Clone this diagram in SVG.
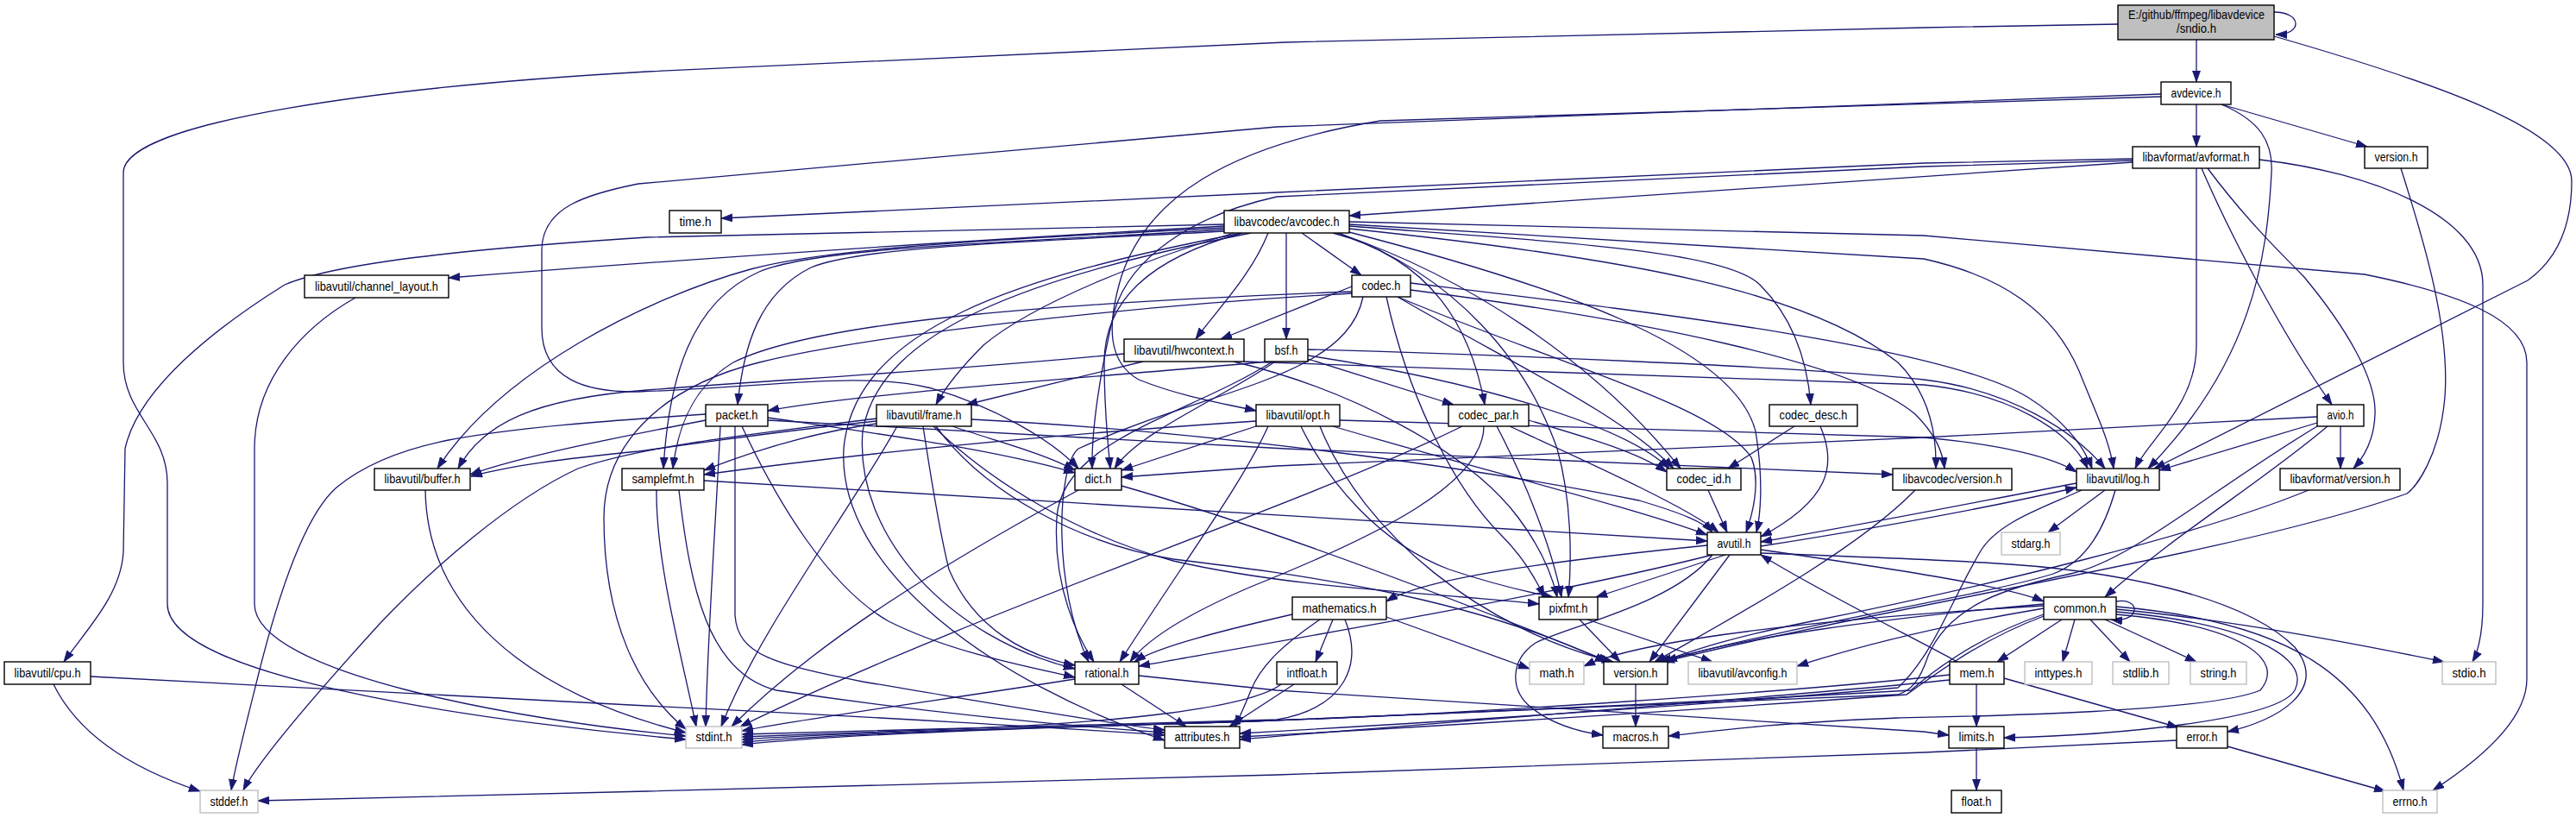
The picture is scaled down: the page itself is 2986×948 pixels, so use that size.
<svg xmlns="http://www.w3.org/2000/svg" width="2986" height="948" viewBox="0 0 2986 948">
<style>
.n rect{fill:#fff;stroke:#000;stroke-width:1.4}
.n.g rect{stroke:#bfbfbf}
.n.r rect{fill:#bfbfbf}
text{font-family:"Liberation Sans",Arial,Helvetica,sans-serif;font-size:15px;text-anchor:middle;fill:#000}
#edges path{fill:none;stroke:#191970;stroke-width:1.3;marker-end:url(#ah)}
</style>
<defs>
<marker id="ah" viewBox="0 0 13 10" refX="13" refY="5" markerWidth="13" markerHeight="10" markerUnits="userSpaceOnUse" orient="auto"><path d="M0,0.5 L13,5 L0,9.5 z" fill="#191970" stroke="#191970" stroke-width="0.8"/></marker>
</defs>
<rect width="2986" height="948" fill="#fff"/>
<g id="edges">
<path d="M2636,14 C2668,14 2670,40 2638,40"/>
<path d="M2546,46 L2546,95"/>
<path d="M2455,28 L2230,32 L1490,49 L750,83 C450,100 143,140 143,200 L143,420 C143,480 194,500 194,560 L194,700 C194,790 600,840 795,857"/>
<path d="M2636,42 C2820,95 2981,150 2981,210 C2981,260 2965,300 2930,325 L2497,543"/>
<path d="M2546,121 L2546,170"/>
<path d="M2575,121 L2744,170"/>
<path d="M2575,121 C2620,140 2635,165 2633,200 C2628,300 2610,420 2490,543"/>
<path d="M2505,112 L1600,140 C1420,170 1330,230 1300,320 C1282,380 1285,420 1320,440 C1370,460 1420,468 1456,476"/>
<path d="M2505,109 L1480,147 L740,213 C680,225 628,240 628,290 L628,380 C628,440 680,455 740,454 C900,448 1000,430 1080,450 C1150,470 1220,510 1250,543"/>
<path d="M2472,188 L1564,250"/>
<path d="M2472,184 L2230,189 L1480,223 L836,253"/>
<path d="M2472,186 L2230,193 L1480,228 C1380,250 1310,300 1292,360 C1275,430 1265,500 1266,543"/>
<path d="M2546,195 L2546,400 C2546,470 2490,510 2475,543"/>
<path d="M2552,195 C2580,260 2640,380 2703,469"/>
<path d="M2559,195 C2600,250 2640,290 2670,320 C2720,380 2755,440 2753,480 C2752,510 2740,530 2728,543"/>
<path d="M2619,185 C2750,200 2878,250 2878,330 L2878,700 C2878,740 2870,760 2866,767"/>
<path d="M2783,195 C2810,280 2840,380 2834,460 C2828,530 2800,565 2790,572 C2600,640 2200,700 1928,767"/>
<path d="M1564,257 L2230,273 L2741,318 C2850,340 2929,370 2929,420 L2929,787 C2929,840 2860,890 2820,916"/>
<path d="M1564,260 L2230,300 C2320,320 2380,360 2410,430 C2430,480 2445,510 2450,543"/>
<path d="M1509,270 L1578,319"/>
<path d="M1491,270 L1491,393"/>
<path d="M1545,270 C1660,300 1705,380 1721,469"/>
<path d="M1564,262 C1800,280 2000,290 2040,330 C2080,370 2095,420 2099,469"/>
<path d="M1564,265 C1900,300 2100,340 2200,420 C2235,455 2245,500 2244,543"/>
<path d="M1550,270 C1700,320 1850,420 1948,543"/>
<path d="M1560,268 C1800,330 2010,400 2035,500 C2045,560 2040,600 2036,617"/>
<path d="M1552,270 C1690,320 1770,420 1805,520 C1822,580 1822,650 1818,692"/>
<path d="M1450,270 C1200,320 1020,380 1000,500 C990,620 1100,740 1246,775"/>
<path d="M1440,270 C1180,320 990,380 978,520 C970,660 1150,790 1350,858"/>
<path d="M1419,266 C1200,280 950,285 880,315 C800,350 775,440 769,543"/>
<path d="M1419,264 C1100,280 950,290 870,312 C750,345 580,430 507,543"/>
<path d="M1419,268 C1200,280 1000,285 940,310 C880,340 862,400 855,469"/>
<path d="M1430,270 C1330,300 1200,350 1140,400 C1110,430 1095,450 1085,469"/>
<path d="M1470,270 C1450,320 1410,360 1386,393"/>
<path d="M1440,270 C1330,300 1280,350 1280,420 C1280,480 1285,520 1287,543"/>
<path d="M1419,262 C1100,280 800,300 520,322"/>
<path d="M1419,260 L750,275 C600,285 400,300 330,330 C250,380 160,450 145,520 L143,640 C140,690 100,730 74,767"/>
<path d="M412,345 C350,380 295,440 295,520 L295,700 C295,780 600,835 795,853"/>
<path d="M1567,340 C1300,355 1000,390 880,420 C760,450 700,520 700,600 C700,720 740,800 795,845"/>
<path d="M1620,344 C1800,420 1990,470 2030,530 C2042,560 2030,600 2024,617"/>
<path d="M1567,332 L1415,393"/>
<path d="M1635,328 C1900,360 2250,400 2350,460 C2390,485 2415,515 2425,543"/>
<path d="M1607,344 C1630,450 1680,560 1740,620 C1765,645 1780,670 1790,692"/>
<path d="M1580,344 C1560,440 1400,450 1250,520 C1225,540 1220,680 1262,767"/>
<path d="M1567,338 C1250,350 950,370 850,420 C800,450 785,500 780,543"/>
<path d="M1620,344 C1750,420 1880,480 1940,543"/>
<path d="M1635,336 C1900,370 2150,420 2220,480 C2245,505 2252,525 2254,543"/>
<path d="M1303,410 C1100,430 900,440 750,452 C620,462 560,490 531,543"/>
<path d="M1325,419 L1120,469"/>
<path d="M1442,419 L2230,446 C2330,456 2400,500 2420,543"/>
<path d="M1430,419 C1560,450 1700,520 1760,600 C1790,640 1800,670 1805,692"/>
<path d="M1478,419 C1420,460 1320,500 1292,543"/>
<path d="M1516,405 C1700,410 2100,425 2230,440 C2330,452 2405,500 2440,543"/>
<path d="M1475,419 C1380,480 1230,510 1225,600 C1220,680 1250,740 1268,767"/>
<path d="M1516,412 C1700,440 1880,490 1935,543"/>
<path d="M1516,416 L1685,469"/>
<path d="M1470,419 C1300,435 1000,455 890,476"/>
<path d="M818,480 C700,488 600,495 520,510 C460,522 420,540 390,565 C350,600 320,700 300,780 C285,840 272,890 268,916"/>
<path d="M835,494 C830,600 820,740 818,842"/>
<path d="M852,494 L852,713 C855,760 900,770 1000,790 C1150,815 1280,838 1350,846"/>
<path d="M818,487 C700,510 600,530 545,550"/>
<path d="M890,484 C1000,500 1150,520 1246,548"/>
<path d="M860,494 C900,580 960,680 1030,720 C1100,755 1180,770 1246,785"/>
<path d="M890,487 L1490,520 L2194,550"/>
<path d="M1016,485 C900,500 750,515 670,543 C590,580 500,660 440,723 C370,800 300,880 282,916"/>
<path d="M1040,494 C980,600 880,730 836,842"/>
<path d="M1126,486 C1400,500 1700,540 1900,580 C1950,595 1975,605 1985,617"/>
<path d="M1016,488 C900,500 800,515 740,523 C650,532 590,540 546,552"/>
<path d="M1104,494 C1150,510 1210,525 1246,545"/>
<path d="M1070,494 C1080,560 1090,620 1100,660 C1130,730 1190,760 1246,771"/>
<path d="M1016,491 C950,500 880,520 816,545"/>
<path d="M1082,494 C1150,560 1250,620 1360,650 C1500,682 1650,686 1784,700"/>
<path d="M1085,494 C1140,570 1250,630 1360,648 C1500,665 1700,690 1862,767"/>
<path d="M1470,494 C1440,560 1380,640 1298,767"/>
<path d="M1545,494 C1700,540 1900,590 1979,620"/>
<path d="M1456,494 L1300,545"/>
<path d="M1553,487 L2230,507 C2320,515 2380,530 2407,547"/>
<path d="M1508,494 C1540,560 1600,630 1680,660 C1740,680 1780,688 1800,692"/>
<path d="M1456,488 C1200,505 1000,525 816,550"/>
<path d="M1530,494 C1580,620 1720,730 1870,767"/>
<path d="M1695,494 C1500,590 1150,700 858,842"/>
<path d="M1750,494 C1850,540 1960,590 1992,617"/>
<path d="M1720,494 C1720,560 1600,620 1450,680 C1380,710 1330,740 1310,767"/>
<path d="M1735,494 C1770,560 1800,640 1810,692"/>
<path d="M1772,487 C1850,510 1900,525 1932,547"/>
<path d="M2080,494 L2003,543"/>
<path d="M2110,494 C2130,540 2120,580 2041,622"/>
<path d="M2686,494 C2560,570 2470,650 2400,665 C2330,680 2260,700 2235,760 C2225,790 2215,800 2200,805 C1900,818 1600,830 1450,836 C1300,841 1000,848 860,863"/>
<path d="M2698,494 C2620,560 2520,620 2440,692"/>
<path d="M2686,483 L2230,507 L1480,540 L1300,553"/>
<path d="M2686,490 L2503,545"/>
<path d="M2713,494 L2713,543"/>
<path d="M493,568 C495,700 600,800 795,849"/>
<path d="M761,568 C760,650 790,760 807,842"/>
<path d="M787,568 C800,680 820,780 900,800 C1100,830 1250,842 1350,849"/>
<path d="M816,557 C1200,580 1700,610 1979,627"/>
<path d="M1250,568 C1100,650 950,740 848,842"/>
<path d="M1300,563 C1500,620 1750,720 1866,767"/>
<path d="M1980,568 L2002,617"/>
<path d="M2220,568 C2150,640 2000,720 1918,767"/>
<path d="M2440,568 L2374,617"/>
<path d="M2407,560 C2300,580 2150,610 2041,628"/>
<path d="M2413,568 C2370,588 2315,605 2295,640 C2260,700 2240,760 2200,797 C2000,815 1700,835 1437,850"/>
<path d="M2452,568 C2440,610 2420,650 2380,665 C2300,690 2100,720 1922,767"/>
<path d="M2041,633 C2200,608 2320,585 2407,565"/>
<path d="M2041,637 C2200,660 2330,680 2369,697"/>
<path d="M2041,641 C2150,645 2230,648 2300,652 C2450,660 2600,690 2660,750 C2700,800 2640,835 2582,848"/>
<path d="M1985,643 C1800,690 1500,740 1320,772"/>
<path d="M2005,643 L1912,767"/>
<path d="M1985,643 C1940,700 1820,725 1780,745 C1750,765 1750,800 1775,820 C1800,840 1830,848 1858,852"/>
<path d="M1979,632 C1800,650 1650,670 1607,697"/>
<path d="M2000,643 L1850,692"/>
<path d="M1559,718 C1580,770 1560,820 1480,834 C1300,840 1000,846 860,851"/>
<path d="M1607,715 L1773,775"/>
<path d="M1530,718 C1490,745 1462,770 1450,800 C1443,818 1437,830 1432,842"/>
<path d="M1498,712 C1420,730 1340,750 1315,767"/>
<path d="M1545,718 L1525,767"/>
<path d="M1840,718 L1985,767"/>
<path d="M1831,718 L1878,767"/>
<path d="M2453,697 C2482,692 2482,722 2447,718"/>
<path d="M2390,718 L2315,767"/>
<path d="M2405,718 L2391,767"/>
<path d="M2423,718 L2469,767"/>
<path d="M2440,718 L2546,767"/>
<path d="M2453,706 C2600,720 2750,750 2833,767"/>
<path d="M2453,703 C2650,720 2750,780 2786,916"/>
<path d="M2453,709 C2600,722 2680,760 2660,800 C2640,835 2450,852 2323,855"/>
<path d="M2453,712 C2600,725 2650,765 2620,800 C2560,825 2300,830 2200,832 C2050,838 1980,848 1934,853"/>
<path d="M2369,700 C2200,715 2000,740 1931,767"/>
<path d="M2369,705 C2250,725 2150,750 2083,772"/>
<path d="M2369,702 C2100,718 1900,742 1836,772"/>
<path d="M2369,712 C2300,735 2250,770 2215,800 C1900,818 1600,830 1450,836 C1300,841 1000,847 860,857"/>
<path d="M2369,714 C2300,740 2252,775 2210,805 C2000,820 1700,840 1437,854"/>
<path d="M2291,793 L2291,842"/>
<path d="M2323,786 L2525,843"/>
<path d="M2269,767 C2200,730 2100,680 2041,643"/>
<path d="M2260,782 C2100,800 1700,828 1450,836 C1300,841 1000,848 860,860"/>
<path d="M2260,788 C2100,805 1700,835 1437,857"/>
<path d="M2582,865 L2765,917"/>
<path d="M2523,858 L2230,872 L1480,898 L750,917 L299,928"/>
<path d="M2291,867 L2291,916"/>
<path d="M1246,787 C1100,810 950,830 860,847"/>
<path d="M1300,793 L1375,842"/>
<path d="M1320,783 L1480,800 L2230,848 L2259,852"/>
<path d="M1485,793 C1450,820 1300,838 1100,845 C1000,848 920,851 860,854"/>
<path d="M1500,793 L1425,842"/>
<path d="M62,793 C90,850 150,890 232,917"/>
<path d="M105,784 L750,818 C1000,830 1250,845 1350,852"/>
<path d="M1896,793 L1896,842"/>
<path d="M2676,568 C2550,620 2300,680 2100,720 C2000,740 1960,755 1925,767"/>
</g>
<g id="n_sndio" class="n r"><rect x="2455" y="6" width="181" height="40"/><text x="2546" y="22" textLength="158" lengthAdjust="spacingAndGlyphs">E:/github/ffmpeg/libavdevice</text><text x="2546" y="38" textLength="46" lengthAdjust="spacingAndGlyphs">/sndio.h</text></g>
<g id="n_avdevice" class="n"><rect x="2505" y="95" width="81" height="26"/><text x="2545.5" y="112.5" textLength="58" lengthAdjust="spacingAndGlyphs">avdevice.h</text></g>
<g id="n_avformat" class="n"><rect x="2472" y="170" width="147" height="25"/><text x="2545.5" y="187" textLength="124" lengthAdjust="spacingAndGlyphs">libavformat/avformat.h</text></g>
<g id="n_version_dev" class="n"><rect x="2741" y="170" width="73" height="25"/><text x="2777.5" y="187" textLength="50" lengthAdjust="spacingAndGlyphs">version.h</text></g>
<g id="n_time" class="n"><rect x="776" y="244" width="60" height="26"/><text x="806" y="261.5" textLength="37" lengthAdjust="spacingAndGlyphs">time.h</text></g>
<g id="n_avcodec" class="n"><rect x="1419" y="244" width="145" height="26"/><text x="1491.5" y="261.5" textLength="122" lengthAdjust="spacingAndGlyphs">libavcodec/avcodec.h</text></g>
<g id="n_channel_layout" class="n"><rect x="353" y="319" width="167" height="26"/><text x="436.5" y="336.5" textLength="143" lengthAdjust="spacingAndGlyphs">libavutil/channel_layout.h</text></g>
<g id="n_codec" class="n"><rect x="1567" y="319" width="68" height="25"/><text x="1601" y="336" textLength="45" lengthAdjust="spacingAndGlyphs">codec.h</text></g>
<g id="n_hwcontext" class="n"><rect x="1303" y="393" width="139" height="26"/><text x="1372.5" y="410.5" textLength="116" lengthAdjust="spacingAndGlyphs">libavutil/hwcontext.h</text></g>
<g id="n_bsf" class="n"><rect x="1466" y="393" width="50" height="26"/><text x="1491" y="410.5" textLength="27" lengthAdjust="spacingAndGlyphs">bsf.h</text></g>
<g id="n_packet" class="n"><rect x="818" y="469" width="72" height="25"/><text x="854" y="486" textLength="49" lengthAdjust="spacingAndGlyphs">packet.h</text></g>
<g id="n_frame" class="n"><rect x="1016" y="469" width="110" height="25"/><text x="1071" y="486" textLength="87" lengthAdjust="spacingAndGlyphs">libavutil/frame.h</text></g>
<g id="n_opt" class="n"><rect x="1456" y="469" width="97" height="25"/><text x="1504.5" y="486" textLength="74" lengthAdjust="spacingAndGlyphs">libavutil/opt.h</text></g>
<g id="n_codec_par" class="n"><rect x="1679" y="469" width="93" height="25"/><text x="1725.5" y="486" textLength="70" lengthAdjust="spacingAndGlyphs">codec_par.h</text></g>
<g id="n_codec_desc" class="n"><rect x="2051" y="469" width="102" height="25"/><text x="2102" y="486" textLength="79" lengthAdjust="spacingAndGlyphs">codec_desc.h</text></g>
<g id="n_avio" class="n"><rect x="2686" y="469" width="54" height="25"/><text x="2713" y="486" textLength="31" lengthAdjust="spacingAndGlyphs">avio.h</text></g>
<g id="n_buffer" class="n"><rect x="434" y="543" width="111" height="25"/><text x="489.5" y="560" textLength="88" lengthAdjust="spacingAndGlyphs">libavutil/buffer.h</text></g>
<g id="n_samplefmt" class="n"><rect x="721" y="543" width="95" height="25"/><text x="768.5" y="560" textLength="72" lengthAdjust="spacingAndGlyphs">samplefmt.h</text></g>
<g id="n_dict" class="n"><rect x="1246" y="543" width="54" height="25"/><text x="1273" y="560" textLength="31" lengthAdjust="spacingAndGlyphs">dict.h</text></g>
<g id="n_codec_id" class="n"><rect x="1932" y="543" width="86" height="25"/><text x="1975" y="560" textLength="63" lengthAdjust="spacingAndGlyphs">codec_id.h</text></g>
<g id="n_avcodec_version" class="n"><rect x="2194" y="543" width="138" height="25"/><text x="2263" y="560" textLength="115" lengthAdjust="spacingAndGlyphs">libavcodec/version.h</text></g>
<g id="n_log" class="n"><rect x="2407" y="543" width="96" height="25"/><text x="2455" y="560" textLength="73" lengthAdjust="spacingAndGlyphs">libavutil/log.h</text></g>
<g id="n_avformat_version" class="n"><rect x="2643" y="543" width="139" height="25"/><text x="2712.5" y="560" textLength="116" lengthAdjust="spacingAndGlyphs">libavformat/version.h</text></g>
<g id="n_avutil" class="n"><rect x="1979" y="617" width="62" height="26"/><text x="2010" y="634.5" textLength="39" lengthAdjust="spacingAndGlyphs">avutil.h</text></g>
<g id="n_stdarg" class="n g"><rect x="2320" y="617" width="68" height="26"/><text x="2354" y="634.5" textLength="45" lengthAdjust="spacingAndGlyphs">stdarg.h</text></g>
<g id="n_mathematics" class="n"><rect x="1498" y="692" width="109" height="26"/><text x="1552.5" y="709.5" textLength="86" lengthAdjust="spacingAndGlyphs">mathematics.h</text></g>
<g id="n_pixfmt" class="n"><rect x="1784" y="692" width="68" height="26"/><text x="1818" y="709.5" textLength="45" lengthAdjust="spacingAndGlyphs">pixfmt.h</text></g>
<g id="n_common" class="n"><rect x="2369" y="692" width="84" height="26"/><text x="2411" y="709.5" textLength="61" lengthAdjust="spacingAndGlyphs">common.h</text></g>
<g id="n_cpu" class="n"><rect x="5" y="767" width="100" height="26"/><text x="55" y="784.5" textLength="77" lengthAdjust="spacingAndGlyphs">libavutil/cpu.h</text></g>
<g id="n_rational" class="n"><rect x="1246" y="767" width="74" height="26"/><text x="1283" y="784.5" textLength="51" lengthAdjust="spacingAndGlyphs">rational.h</text></g>
<g id="n_intfloat" class="n"><rect x="1480" y="767" width="70" height="26"/><text x="1515" y="784.5" textLength="47" lengthAdjust="spacingAndGlyphs">intfloat.h</text></g>
<g id="n_math" class="n g"><rect x="1773" y="767" width="63" height="26"/><text x="1804.5" y="784.5" textLength="40" lengthAdjust="spacingAndGlyphs">math.h</text></g>
<g id="n_version_util" class="n"><rect x="1859" y="767" width="74" height="26"/><text x="1896" y="784.5" textLength="51" lengthAdjust="spacingAndGlyphs">version.h</text></g>
<g id="n_avconfig" class="n g"><rect x="1957" y="767" width="126" height="26"/><text x="2020" y="784.5" textLength="103" lengthAdjust="spacingAndGlyphs">libavutil/avconfig.h</text></g>
<g id="n_mem" class="n"><rect x="2260" y="767" width="63" height="26"/><text x="2291.5" y="784.5" textLength="40" lengthAdjust="spacingAndGlyphs">mem.h</text></g>
<g id="n_inttypes" class="n g"><rect x="2347" y="767" width="78" height="26"/><text x="2386" y="784.5" textLength="55" lengthAdjust="spacingAndGlyphs">inttypes.h</text></g>
<g id="n_stdlib" class="n g"><rect x="2449" y="767" width="65" height="26"/><text x="2481.5" y="784.5" textLength="42" lengthAdjust="spacingAndGlyphs">stdlib.h</text></g>
<g id="n_string" class="n g"><rect x="2539" y="767" width="65" height="26"/><text x="2571.5" y="784.5" textLength="42" lengthAdjust="spacingAndGlyphs">string.h</text></g>
<g id="n_stdio" class="n g"><rect x="2831" y="767" width="62" height="26"/><text x="2862" y="784.5" textLength="39" lengthAdjust="spacingAndGlyphs">stdio.h</text></g>
<g id="n_stdint" class="n g"><rect x="795" y="842" width="65" height="25"/><text x="827.5" y="859" textLength="42" lengthAdjust="spacingAndGlyphs">stdint.h</text></g>
<g id="n_attributes" class="n"><rect x="1350" y="842" width="87" height="25"/><text x="1393.5" y="859" textLength="64" lengthAdjust="spacingAndGlyphs">attributes.h</text></g>
<g id="n_macros" class="n"><rect x="1858" y="842" width="76" height="25"/><text x="1896" y="859" textLength="53" lengthAdjust="spacingAndGlyphs">macros.h</text></g>
<g id="n_limits" class="n"><rect x="2259" y="842" width="64" height="25"/><text x="2291" y="859" textLength="41" lengthAdjust="spacingAndGlyphs">limits.h</text></g>
<g id="n_error" class="n"><rect x="2523" y="842" width="59" height="25"/><text x="2552.5" y="859" textLength="36" lengthAdjust="spacingAndGlyphs">error.h</text></g>
<g id="n_stddef" class="n g"><rect x="232" y="916" width="67" height="26"/><text x="265.5" y="933.5" textLength="44" lengthAdjust="spacingAndGlyphs">stddef.h</text></g>
<g id="n_float" class="n"><rect x="2262" y="916" width="58" height="26"/><text x="2291" y="933.5" textLength="35" lengthAdjust="spacingAndGlyphs">float.h</text></g>
<g id="n_errno" class="n g"><rect x="2762" y="916" width="63" height="26"/><text x="2793.5" y="933.5" textLength="40" lengthAdjust="spacingAndGlyphs">errno.h</text></g>
</svg>
